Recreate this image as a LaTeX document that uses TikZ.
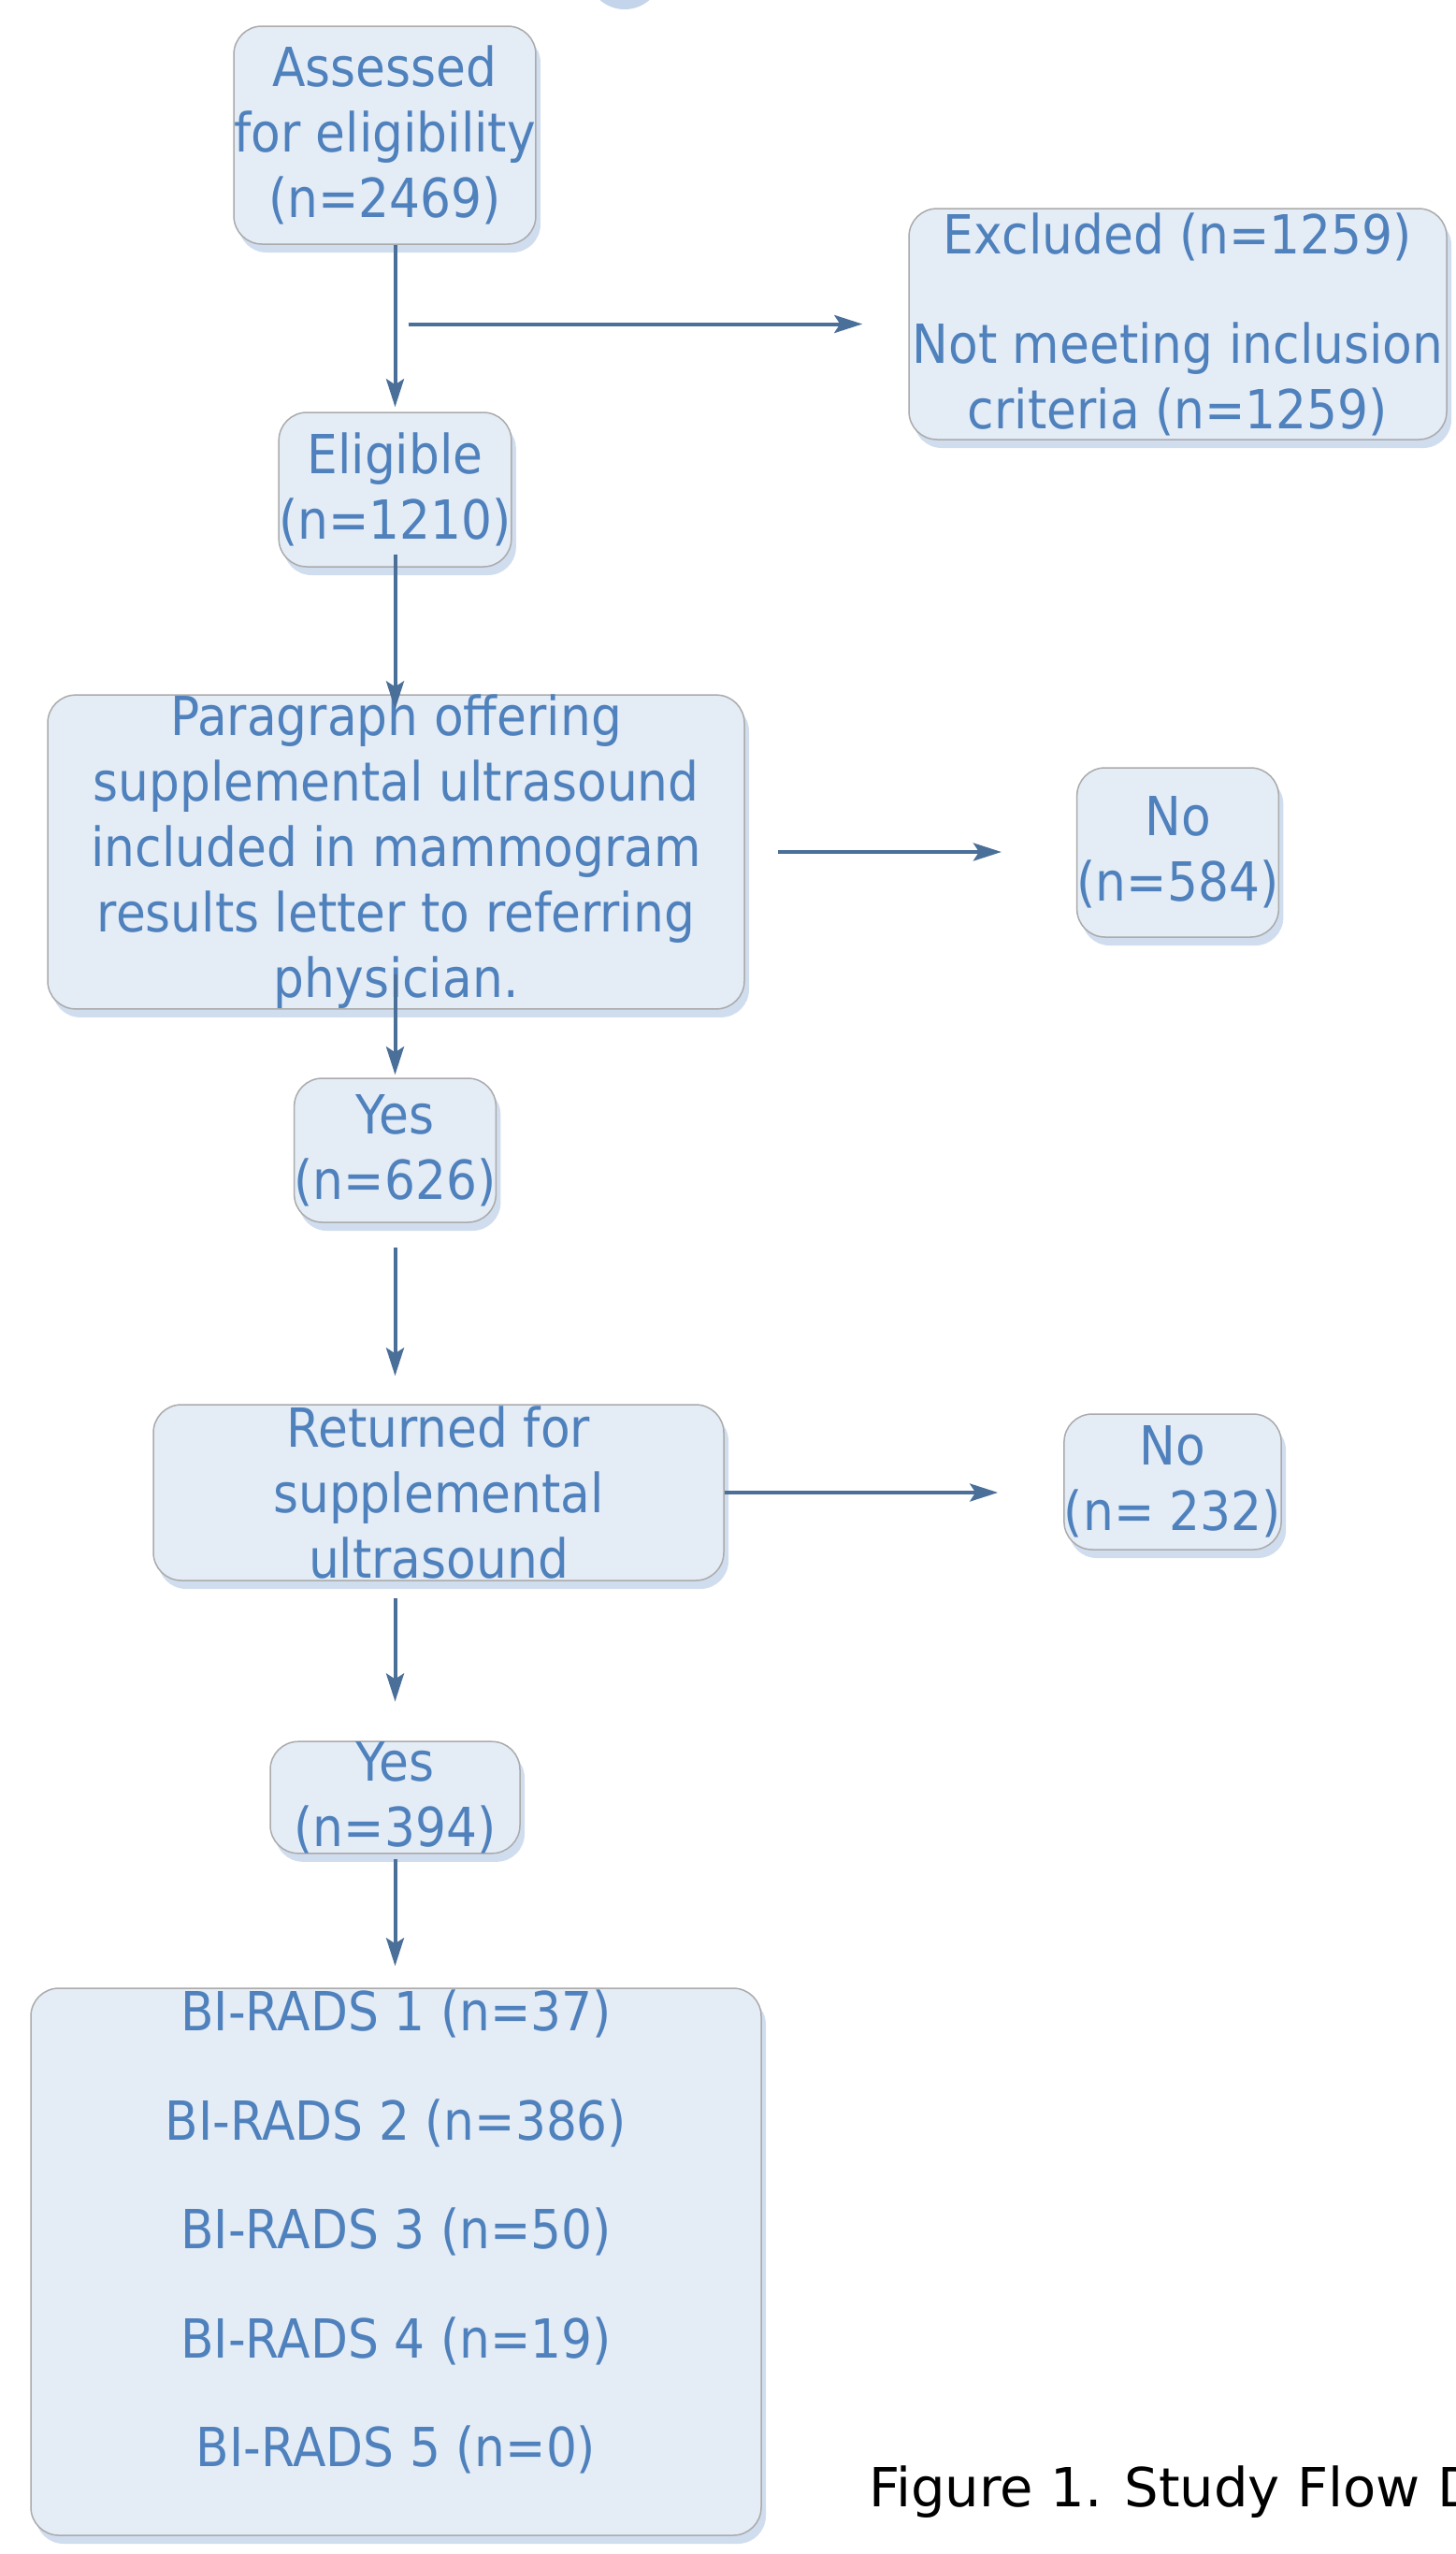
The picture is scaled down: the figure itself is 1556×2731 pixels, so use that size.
\documentclass[tikz,border=0pt]{standalone}
\usepackage{fontspec}
\setmainfont{DejaVu Sans}[FakeStretch=0.9]
\newfontfamily\capfont{DejaVu Sans}
\usetikzlibrary{arrows.meta,shadows,calc}
\definecolor{txtblue}{HTML}{4F81BD}
\definecolor{boxfill}{HTML}{E4ECF6}
\definecolor{boxline}{HTML}{ABABAB}
\definecolor{shadeblue}{HTML}{C4D4EA}
\definecolor{arrowblue}{HTML}{4A6F99}

\begin{document}
\begin{tikzpicture}[x=1pt,y=-1pt,
        bx/.style={draw=boxline, line width=1.5pt, fill=boxfill,
                        rounded corners=30pt, inner sep=0pt, align=center,
                        text=txtblue, font=\fontsize{57.6}{70}\selectfont,
                        drop shadow={shadow xshift=5pt, shadow yshift=-9pt,
                                fill=shadeblue, opacity=0.8}},
        tx/.style={inner sep=0pt, align=center, text=txtblue,
                        font=\fontsize{57.6}{116.5}\selectfont},
        ar/.style={draw=arrowblue, line width=4pt,
                        -{Stealth[length=30pt,width=19pt,inset=6pt]}}]
            \useasboundingbox (0,0) rectangle (1556,2731);
            \fill[shadeblue] (668,-30) circle (40);

            % boxes
            \node[bx, minimum width=317, minimum height=233] (assess) at (411.5,144.5)
                {Assessed\\for eligibility\\(n=2469)};
            \node[bx, minimum width=575, minimum height=247] (excl) at (1259.5,346.5)
                {Excluded (n=1259)\\[47pt]Not meeting inclusion\\criteria (n=1259)};
            \node[bx, minimum width=231, minimum height=165] (elig) at (422.5,523.5)
                {Eligible\\(n=1210)};
            \node[bx, minimum width=745, minimum height=328] (para) at (423.5,911)
                {Paragraph offering\\supplemental ultrasound\\included in mammogram\\results letter to referring\\physician.};
            \node[bx, minimum width=213, minimum height=181] (no1) at (1259.5,911.5)
                {No\\(n=584)};
            \node[bx, minimum width=211, minimum height=154] (yes1) at (422.5,1230)
                {Yes\\(n=626)};
            \node[bx, minimum width=610, minimum height=188] (ret) at (469,1596)
                {Returned for\\supplemental\\ultrasound};
            \node[bx, minimum width=218, minimum height=145] (no2) at (1254,1584.5)
                {No\\(n=~232)};
            \node[bx, minimum width=267, minimum height=118] (yes2) at (422.5,1922)
                {Yes\\(n=394)};
            \node[bx, minimum width=781, minimum height=585] (birads) at (423.5,2418.5) {};
            \node[tx] (biradstx) at ([yshift=32pt]birads.center)
                {BI-RADS 1 (n=37)\\BI-RADS 2 (n=386)\\BI-RADS 3 (n=50)\\BI-RADS 4 (n=19)\\BI-RADS 5 (n=0)};

            \node[inner sep=0pt, anchor=base west, font=\capfont\fontsize{57.6}{70}\selectfont]
                (caption) at (929,2680) {Figure 1. Study Flow D};

            % arrows
            \draw[ar, shorten >=5pt] (elig.north |- assess.south) -- (elig.north);
            \draw[ar] ($(elig.north |- excl.west)+(14,0)$) -- ([xshift=-49pt]excl.west);
            \draw[ar, shorten <=-14pt, shorten >=-16pt] (elig.south) -- (para.north -| elig.south);
            \draw[ar, shorten <=-38pt, shorten >=3pt] (yes1.north |- para.south) -- (yes1.north);
            \draw[ar] ([xshift=35pt]para.east) -- ([xshift=-80pt]para.east -| no1.west);
            \draw[ar, shorten <=26pt, shorten >=30pt] (yes1.south) -- (yes1.south |- ret.north);
            \draw[ar, shorten >=70pt] (ret.east) -- (ret.east -| no2.west);
            \draw[ar, shorten <=18pt, shorten >=42pt] (yes2.north |- ret.south) -- (yes2.north);
            \draw[ar, shorten <=5pt, shorten >=23pt] (yes2.south) -- (birads.north -| yes2.south);
        \end{tikzpicture}
\end{document}
